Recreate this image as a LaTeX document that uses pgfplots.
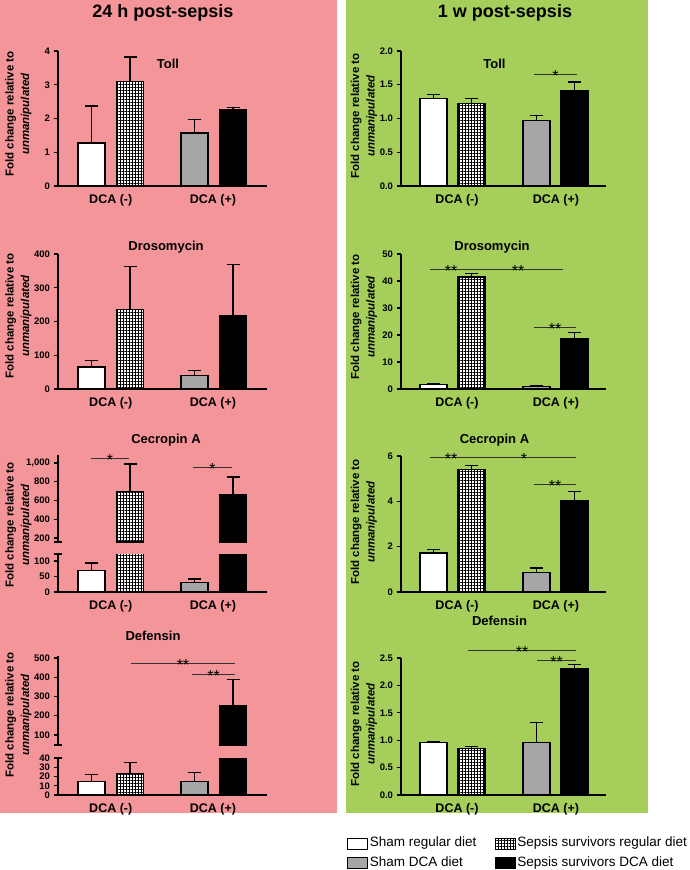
\documentclass[border=0pt]{standalone}
\usepackage{pgfplots}
\pgfplotsset{compat=1.18}
\usepackage{fontspec}
\setmainfont{Liberation Sans}
\usetikzlibrary{patterns.meta}
\definecolor{pinkbg}{RGB}{244,150,153}
\definecolor{greenbg}{RGB}{165,206,90}
\definecolor{shamgray}{RGB}{166,166,166}
\newcommand\tickfont{\bfseries\fontsize{9.5}{11}\selectfont}
\newcommand\catfont{\bfseries\fontsize{12.5}{14}\selectfont}
\newcommand\ttlfont{\bfseries\fontsize{13}{15}\selectfont}
\newcommand\labfont{\bfseries\fontsize{11.5}{15.5}\selectfont}
\newcommand\starfont{\fontsize{16}{16}\selectfont}
\tikzset{
  sig/.style={line width=1pt, black!80},
  star/.style={anchor=base, yshift=-7pt, inner sep=0pt, font=\starfont},
  ylab/.style={rotate=90, align=center, font=\labfont},
  ttl/.style={anchor=base, font=\ttlfont},
}
\pgfplotsset{
  common/.style={scale only axis, anchor=south west, xmin=0,
    axis y line*=left,
    axis line style={line width=1.4pt, black},
    tick align=outside, major tick length=4.5pt,
    ytick style={line width=1.3pt, black},
    xtick style={draw=none},
    clip mode=individual,
    yticklabel style={font=\tickfont},
    xticklabel style={font=\catfont},
    /pgf/number format/assume math mode=true,
  },
  panel/.style={common, axis x line*=bottom},
  upper/.style={common, axis x line=none, xtick=\empty,
    extra y tick labels={}, extra y tick style={tick align=center, major tick length=8pt}},
  leftpanel/.style={panel, xmax=209, width=209pt, xtick={52.75,155}, xticklabels={DCA (-),DCA (+)}},
  rightpanel/.style={panel, xmax=205, width=205pt, xtick={56,155}, xticklabels={DCA (-),DCA (+)}},
  leftupper/.style={upper, xmax=209, width=209pt},
  brk/.style={extra y tick labels={}, extra y tick style={tick align=center, major tick length=8pt}},
  boxleg/.style={legend image code/.code={\draw[##1, line width=1pt] (0pt,-5pt) rectangle (20pt,6pt);}},
  barbase/.style={ybar, bar width=27pt, bar shift=0pt, draw=black, line width=1.3pt, boxleg},
  barW/.style={barbase, fill=white},
  barC/.style={barbase, fill=white, postaction={pattern={Hatch[angle=0,distance=3pt,line width=0.9pt]}}},
  barG/.style={barbase, fill=shamgray},
  barB/.style={barbase, fill=black},
  errs/.style={/pgfplots/error bars/y dir=plus, /pgfplots/error bars/y explicit,
    /pgfplots/error bars/error bar style={line width=1.2pt, black},
    /pgfplots/error bars/error mark options={rotate=90, line width=1.2pt, mark size=6.5pt, black}},
  dec1/.style={yticklabel style={/pgf/number format/.cd, fixed, fixed zerofill, precision=1}},
}
\begin{document}
\begin{tikzpicture}
\useasboundingbox (0pt,0pt) rectangle (690pt,-870pt);
\fill[white] (0pt,0pt) rectangle (690pt,-870pt);
\fill[pinkbg] (0pt,0pt) rectangle (337pt,-813pt);
\fill[greenbg] (346pt,0pt) rectangle (648pt,-813pt);
\node[anchor=base, font=\bfseries\fontsize{18}{20}\selectfont] at (163pt,-17pt) {24 h post-sepsis};
\node[anchor=base, font=\bfseries\fontsize{18}{20}\selectfont] at (505pt,-17pt) {1 w post-sepsis};

% panel titles
\node[ttl] at (168pt,-68.5pt) {Toll};
\node[ttl] at (494.5pt,-68.5pt) {Toll};
\node[ttl] at (166pt,-250pt) {Drosomycin};
\node[ttl] at (492pt,-250pt) {Drosomycin};
\node[ttl] at (166pt,-443pt) {Cecropin A};
\node[ttl] at (494.5pt,-443pt) {Cecropin A};
\node[ttl] at (153pt,-640pt) {Defensin};
\node[ttl] at (499.5pt,-625pt) {Defensin};

% y labels
\node[ylab] at (18.5pt,-114pt) {Fold change relative to\\\textit{unmanipulated}};
\node[ylab] at (18.5pt,-316pt) {Fold change relative to\\\textit{unmanipulated}};
\node[ylab] at (18.5pt,-525pt) {Fold change relative to\\\textit{unmanipulated}};
\node[ylab] at (18.5pt,-715pt) {Fold change relative to\\\textit{unmanipulated}};
\node[ylab] at (364pt,-116pt) {Fold change relative to\\\textit{unmanipulated}};
\node[ylab] at (364pt,-317pt) {Fold change relative to\\\textit{unmanipulated}};
\node[ylab] at (364pt,-522pt) {Fold change relative to\\\textit{unmanipulated}};
\node[ylab] at (364pt,-724pt) {Fold change relative to\\\textit{unmanipulated}};

% ---------- 24 h: Toll
\begin{axis}[leftpanel, at={(58pt,-186pt)}, height=135pt, ymin=0, ymax=4, ytick={0,1,2,3,4}]
\addplot[barW, errs] coordinates {(33.5,1.27) +- (0,1.10)};
\addplot[barC, errs] coordinates {(72,3.10) +- (0,0.72)};
\addplot[barG, errs] coordinates {(136.5,1.57) +- (0,0.41)};
\addplot[barB, errs] coordinates {(175,2.27) +- (0,0.06)};
\end{axis}

% ---------- 24 h: Drosomycin
\begin{axis}[leftpanel, at={(58pt,-389pt)}, height=135pt, ymin=0, ymax=400, ytick={0,100,200,300,400}]
\addplot[barW, errs] coordinates {(33.5,65) +- (0,19)};
\addplot[barC, errs] coordinates {(72,235) +- (0,128)};
\addplot[barG, errs] coordinates {(136.5,40) +- (0,15)};
\addplot[barB, errs] coordinates {(175,218) +- (0,151)};
\end{axis}

% ---------- 24 h: Cecropin A (broken axis)
\begin{axis}[leftpanel, brk, at={(58pt,-592pt)}, height=38pt, ymin=0, ymax=122, ytick={0,50,100}, extra y ticks={122}]
\addplot[barW, errs] coordinates {(33.5,69) +- (0,24)};
\addplot[barC] coordinates {(72,695)};
\addplot[barG, errs] coordinates {(136.5,30) +- (0,12)};
\addplot[barB] coordinates {(175,660)};
\end{axis}
\begin{axis}[leftupper, at={(58pt,-542pt)}, height=87pt, ymin=157, ymax=1085, ytick={200,400,600,800,1000}, extra y ticks={157},
  yticklabel style={/pgf/number format/1000 sep={,}}]
\addplot[barC, errs] coordinates {(72,695) +- (0,293)};
\addplot[barB, errs] coordinates {(175,660) +- (0,190)};
\draw[sig] (axis cs:33,1053) -- (axis cs:71,1053);
\node[star] at (axis cs:52,1053) {*};
\draw[sig] (axis cs:135,953) -- (axis cs:174,953);
\node[star] at (axis cs:154.5,953) {*};
\end{axis}

% ---------- 24 h: Defensin (broken axis)
\begin{axis}[leftpanel, brk, at={(58pt,-795pt)}, height=37pt, ymin=0, ymax=40, ytick={0,10,20,30,40}, extra y ticks={40}]
\addplot[barW, errs] coordinates {(33.5,14.5) +- (0,8)};
\addplot[barC, errs] coordinates {(72,23) +- (0,12)};
\addplot[barG, errs] coordinates {(136.5,14.5) +- (0,9.5)};
\addplot[barB] coordinates {(175,252)};
\end{axis}
\begin{axis}[leftupper, at={(58pt,-745pt)}, height=89pt, ymin=48, ymax=510, ytick={100,200,300,400,500}, extra y ticks={48}]
\addplot[barB, errs] coordinates {(175,252) +- (0,138)};
\draw[sig] (axis cs:73,471) -- (axis cs:177,471);
\node[star] at (axis cs:125,471) {**};
\draw[sig] (axis cs:134,414) -- (axis cs:177,414);
\node[star] at (axis cs:155.5,414) {**};
\end{axis}

% ---------- 1 w: Toll
\begin{axis}[rightpanel, dec1, at={(401pt,-186pt)}, height=135pt, ymin=0, ymax=2, ytick={0,0.5,1,1.5,2}]
\addplot[barW, errs] coordinates {(32.5,1.30) +- (0,0.05)};
\addplot[barC, errs] coordinates {(70.5,1.22) +- (0,0.08)};
\addplot[barG, errs] coordinates {(135.5,0.97) +- (0,0.08)};
\addplot[barB, errs] coordinates {(173.5,1.41) +- (0,0.13)};
\draw[sig] (axis cs:133,1.65) -- (axis cs:176,1.65);
\node[star] at (axis cs:154.5,1.65) {*};
\end{axis}

% ---------- 1 w: Drosomycin
\begin{axis}[rightpanel, at={(401pt,-389pt)}, height=135pt, ymin=0, ymax=50, ytick={0,10,20,30,40,50}]
\addplot[barW, errs] coordinates {(32.5,1.6) +- (0,0.4)};
\addplot[barC, errs] coordinates {(70.5,41.5) +- (0,1.4)};
\addplot[barG, errs] coordinates {(135.5,0.8) +- (0,0.3)};
\addplot[barB, errs] coordinates {(173.5,18.5) +- (0,2.5)};
\draw[sig] (axis cs:29,44.4) -- (axis cs:72,44.4);
\node[star] at (axis cs:50,44.4) {**};
\draw[sig] (axis cs:72,44.4) -- (axis cs:162,44.4);
\node[star] at (axis cs:117,44.4) {**};
\draw[sig] (axis cs:133,22.7) -- (axis cs:175,22.7);
\node[star] at (axis cs:154,22.7) {**};
\end{axis}

% ---------- 1 w: Cecropin A
\begin{axis}[rightpanel, at={(401pt,-592pt)}, height=136pt, ymin=0, ymax=6, ytick={0,2,4,6}]
\addplot[barW, errs] coordinates {(32.5,1.72) +- (0,0.15)};
\addplot[barC, errs] coordinates {(70.5,5.40) +- (0,0.18)};
\addplot[barG, errs] coordinates {(135.5,0.86) +- (0,0.20)};
\addplot[barB, errs] coordinates {(173.5,4.05) +- (0,0.40)};
\draw[sig] (axis cs:29,5.93) -- (axis cs:72,5.93);
\node[star] at (axis cs:50,5.93) {**};
\draw[sig] (axis cs:72,5.93) -- (axis cs:175,5.93);
\node[star] at (axis cs:123,5.93) {*};
\draw[sig] (axis cs:133,4.75) -- (axis cs:175,4.75);
\node[star] at (axis cs:154,4.75) {**};
\end{axis}

% ---------- 1 w: Defensin + legend
\begin{axis}[rightpanel, dec1, at={(401pt,-795pt)}, height=137pt, ymin=0, ymax=2.5, ytick={0,0.5,1,1.5,2,2.5},
  legend columns=2,
  legend style={at={(-0.263,-0.31)}, anchor=north west, draw=none, fill=none, inner sep=0pt,
    font=\fontsize{13.5}{15}\selectfont, row sep=6.5pt,
    nodes={inner sep=1.5pt, text height=0.75em, text depth=0.2em},
    /tikz/every even column/.append style={column sep=17pt}},
  legend cell align=left]
\addplot[barW, errs] coordinates {(32.5,0.96) +- (0,0.01)};
\addlegendentry{Sham regular diet}
\addplot[barC, errs] coordinates {(70.5,0.85) +- (0,0.03)};
\addlegendentry{Sepsis survivors regular diet}
\addplot[barG, errs] coordinates {(135.5,0.96) +- (0,0.37)};
\addlegendentry{Sham DCA diet}
\addplot[barB, errs] coordinates {(173.5,2.30) +- (0,0.08)};
\addlegendentry{Sepsis survivors DCA diet}
\draw[sig] (axis cs:67,2.64) -- (axis cs:175,2.64);
\node[star] at (axis cs:121,2.64) {**};
\draw[sig] (axis cs:136,2.46) -- (axis cs:175,2.46);
\node[star] at (axis cs:155.5,2.46) {**};
\end{axis}
\end{tikzpicture}
\end{document}
